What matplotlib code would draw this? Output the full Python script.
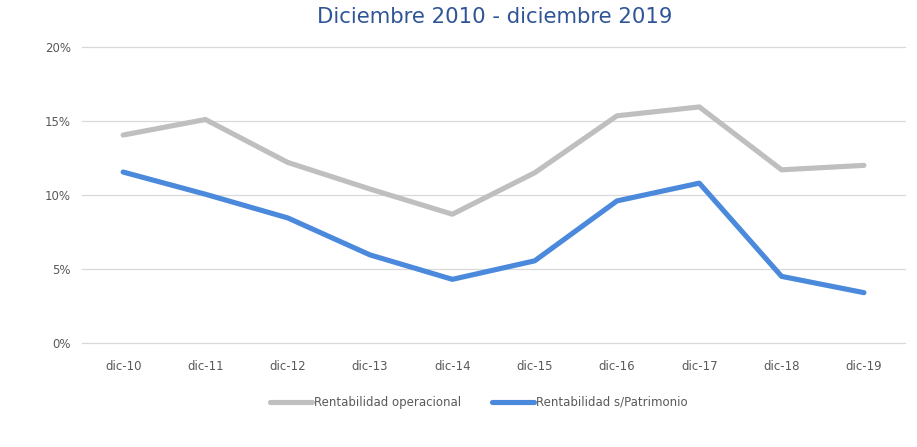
import matplotlib.pyplot as plt
from matplotlib.ticker import FuncFormatter

# datos
periodos = ['dic-10', 'dic-11', 'dic-12', 'dic-13', 'dic-14',
            'dic-15', 'dic-16', 'dic-17', 'dic-18', 'dic-19']
rent_operacional = [14.05, 15.1, 12.2, 10.4, 8.7, 11.5, 15.35, 15.95, 11.7, 12.0]
rent_patrimonio = [11.55, 10.05, 8.45, 5.95, 4.3, 5.55, 9.6, 10.8, 4.5, 3.4]

fig = plt.figure(figsize=(9.17, 4.47), dpi=100)
ax = fig.add_axes([0.0894, 0.2327, 0.8976, 0.6622])

x = range(len(periodos))
ax.plot(x, rent_operacional, color='#BFBFBF', lw=3.7, label='Rentabilidad operacional',
        solid_capstyle='round', solid_joinstyle='round')
ax.plot(x, rent_patrimonio, color='#4A89DC', lw=3.7, label='Rentabilidad s/Patrimonio',
        solid_capstyle='round', solid_joinstyle='round')

ax.set_xlim(-0.5, len(periodos) - 0.5)
ax.set_ylim(0, 20)
ax.set_yticks([0, 5, 10, 15, 20])
ax.yaxis.set_major_formatter(FuncFormatter(lambda v, p: f'{v:.0f}%'))
ax.set_xticks(list(x))
ax.set_xticklabels(periodos)
ax.grid(axis='y', color='#D9D9D9', lw=0.9)
ax.set_axisbelow(True)
for gl in ax.get_ygridlines():
    gl.set_clip_on(False)
for s in ax.spines.values():
    s.set_visible(False)
ax.tick_params(length=0, labelsize=8.5, colors='#595959', pad=8)
ax.tick_params(axis='x', pad=12)

fig.suptitle('Diciembre 2010 - diciembre 2019', x=0.54, y=0.985, fontsize=15.3, color='#2F5597')

fig.legend(loc='center', bbox_to_anchor=(0.522, 0.1), ncol=2, frameon=False,
           fontsize=8.5, handlelength=3.6, handletextpad=0.15, columnspacing=2.6,
           labelcolor='#595959')

fig.savefig('out.png', dpi=100)
